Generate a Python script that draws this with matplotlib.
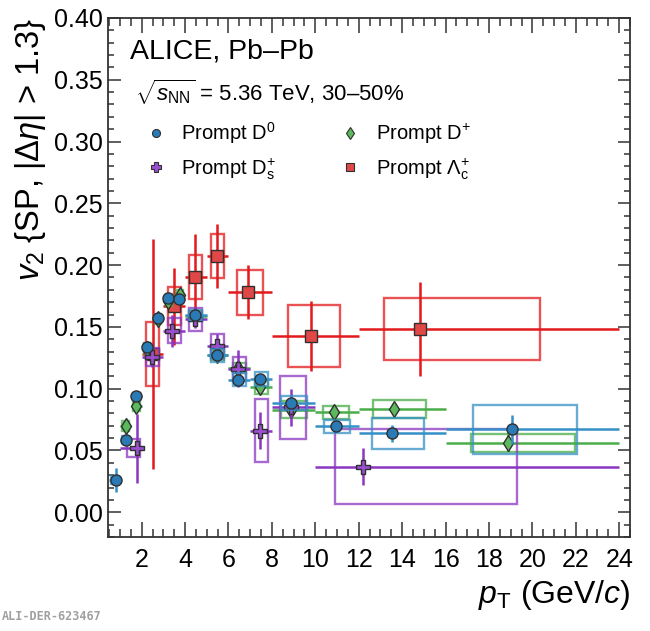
import numpy as np
import matplotlib
matplotlib.use("Agg")
import matplotlib.pyplot as plt
from matplotlib.patches import Rectangle
from matplotlib.lines import Line2D
from matplotlib.ticker import MultipleLocator

plt.rcParams["font.family"] = ["Liberation Sans", "DejaVu Sans"]
plt.rcParams["mathtext.fontset"] = "custom"
plt.rcParams["mathtext.rm"] = "Liberation Sans"
plt.rcParams["mathtext.it"] = "Liberation Sans:italic"
plt.rcParams["mathtext.bf"] = "Liberation Sans:bold"

# prompt D0
d0_pt = np.array([0.81, 1.27, 1.75, 2.25, 2.74, 3.22, 3.73, 4.45, 5.47, 6.45, 7.44, 8.87, 10.94, 13.52, 19.04])
d0_v2 = np.array([0.026, 0.0587, 0.0938, 0.1337, 0.1575, 0.1734, 0.1724, 0.1594, 0.127, 0.1073, 0.108, 0.0883, 0.0697, 0.064, 0.067])
d0_lo = np.array([0.5, 1, 1.5, 2, 2.5, 3, 3.5, 4, 5, 6, 7, 8, 10, 12, 16])
d0_hi = np.array([1, 1.5, 2, 2.5, 3, 3.5, 4, 5, 6, 7, 8, 10, 12, 16, 24])
d0_stat = np.array([0.0095, 0.004, 0.004, 0.004, 0.004, 0.004, 0.004, 0.004, 0.004, 0.004, 0.004, 0.005, 0.004, 0.007, 0.012])
d0_syst = np.array([0.003, 0.003, 0.003, 0.003, 0.003, 0.003, 0.003, 0.004, 0.0055, 0.005, 0.0055, 0.0055, 0.0053, 0.0125, 0.02])
d0_box = np.array([0.75, 1.25, 1.75, 2.25, 2.75, 3.25, 3.75, 4.5, 5.5, 6.5, 7.5, 9, 11, 13.83, 19.65])

# prompt D+
dp_pt = np.array([1.27, 1.74, 2.25, 2.74, 3.22, 3.75, 4.45, 5.47, 6.45, 7.46, 8.87, 10.88, 13.61, 18.86])
dp_v2 = np.array([0.0697, 0.0857, 0.132, 0.156, 0.171, 0.1756, 0.159, 0.127, 0.117, 0.101, 0.083, 0.0808, 0.0835, 0.0562])
dp_lo = np.array([1, 1.5, 2, 2.5, 3, 3.5, 4, 5, 6, 7, 8, 10, 12, 16])
dp_hi = np.array([1.5, 2, 2.5, 3, 3.5, 4, 5, 6, 7, 8, 10, 12, 16, 24])
dp_stat = np.array([0.004, 0.004, 0.004, 0.004, 0.004, 0.004, 0.004, 0.004, 0.004, 0.004, 0.005, 0.004, 0.005, 0.007])
dp_syst = np.array([0.004, 0.004, 0.004, 0.004, 0.004, 0.004, 0.004, 0.004, 0.004, 0.0055, 0.007, 0.0052, 0.007, 0.0073])
dp_box = np.array([1.25, 1.75, 2.25, 2.75, 3.25, 3.75, 4.5, 5.5, 6.5, 7.5, 9, 10.95, 13.88, 19.58])

# prompt Ds+
ds_pt = np.array([1.78, 2.48, 3.41, 4.45, 5.47, 6.45, 7.46, 8.87, 12.18])
ds_v2 = np.array([0.0519, 0.1256, 0.147, 0.156, 0.1343, 0.116, 0.066, 0.085, 0.037])
ds_lo = np.array([1, 2, 3, 4, 5, 6, 7, 8, 10])
ds_hi = np.array([2, 3, 4, 5, 6, 7, 8, 10, 24])
ds_stat = np.array([0.028, 0.008, 0.013, 0.007, 0.01, 0.015, 0.015, 0.015, 0.015])
ds_syst = np.array([0.007, 0.0075, 0.01, 0.0095, 0.0098, 0.0095, 0.0257, 0.0255, 0.030])
ds_box = np.array([1.63, 2.5, 3.5, 4.5, 5.5, 6.5, 7.5, 8.96, 15.1])

# prompt Lambda_c+
lc_pt = np.array([2.51, 3.49, 4.45, 5.47, 6.89, 9.78, 14.82])
lc_v2 = np.array([0.128, 0.1667, 0.1905, 0.2075, 0.178, 0.1426, 0.1486])
lc_lo = np.array([2, 3, 4, 5, 6, 8, 12])
lc_hi = np.array([3, 4, 5, 6, 8, 12, 24])
lc_stat = np.array([0.093, 0.031, 0.035, 0.026, 0.022, 0.028, 0.038])
lc_syst = np.array([0.026, 0.0155, 0.018, 0.018, 0.018, 0.025, 0.025])
lc_box = np.array([2.5, 3.5, 4.47, 5.49, 6.97, 9.93, 16.76])

species = [
    # pt, v2, lo, hi, stat, syst, box, marker, size, fill, line, label
    (lc_pt, lc_v2, lc_lo, lc_hi, lc_stat, lc_syst, lc_box, "s", 8, "#e04848", "#e3191c", r"Prompt $\Lambda_\mathrm{c}^{+}$"),
    (dp_pt, dp_v2, dp_lo, dp_hi, dp_stat, dp_syst, dp_box, "d", 8.5, "#5cb85c", "#4aad4a", r"Prompt D$^{+}$"),
    (ds_pt, ds_v2, ds_lo, ds_hi, ds_stat, ds_syst, ds_box, "P", 10, "#9b4fd0", "#8a36c0", r"Prompt D$_\mathrm{s}^{+}$"),
    (d0_pt, d0_v2, d0_lo, d0_hi, d0_stat, d0_syst, d0_box, "o", 8, "#2a7ab5", "#3590c6", r"Prompt D$^{0}$"),
]

fig = plt.figure(figsize=(6.5, 6.31), dpi=100)
ax = fig.add_axes([0.1662, 0.149, 0.8031, 0.8225])

handles = {}
for z, (pt, v2, lo, hi, stat, syst, box, mk, ms, fc, lc, lab) in enumerate(species):
    zb = 2 + 3 * z
    ax.errorbar(pt, v2, yerr=stat, xerr=[pt - lo, hi - pt], fmt="none",
                ecolor=lc, elinewidth=1.8, capsize=0, zorder=zb)
    for c, w, y, s in zip(box, 0.6 * (hi - lo), v2, syst):
        ax.add_patch(Rectangle((c - w / 2, y - s), w, 2 * s, fill=False,
                               edgecolor=lc, linewidth=1.7, alpha=0.75, zorder=zb + 1))
    ax.plot(pt, v2, linestyle="none", marker=mk, markersize=ms, markerfacecolor=fc,
            markeredgecolor="#303030", markeredgewidth=1.0, zorder=zb + 2)
    handles[lab] = Line2D([], [], linestyle="none", marker=mk, markersize=ms * 0.72,
                          markerfacecolor=fc, markeredgecolor="#303030", markeredgewidth=0.8)

ax.set_xlim(0.45, 24.5)
ax.set_ylim(-0.02, 0.40)
ax.xaxis.set_minor_locator(MultipleLocator(0.5))
ax.yaxis.set_minor_locator(MultipleLocator(0.01))
ax.set_xticks(np.arange(2, 25, 2))
ax.set_yticks(np.arange(0, 0.401, 0.05))
ax.set_yticklabels([f"{v:.2f}" for v in np.arange(0, 0.401, 0.05)])
ax.tick_params(which="both", direction="in", top=True, right=True, labelsize=18, color="#333333", width=1.1)
ax.tick_params(axis="x", which="major", length=11, pad=8)
ax.tick_params(axis="x", which="minor", length=5.5)
ax.tick_params(axis="y", which="major", length=9, pad=4)
ax.tick_params(axis="y", which="minor", length=4.5)
for sp in ax.spines.values():
    sp.set_linewidth(1.3)
    sp.set_color("#333333")

ax.set_xlabel(r"$p_\mathrm{T}$ (GeV/$c$)", fontsize=23, loc="right", labelpad=4)
ax.set_ylabel(r"$v_2$ {SP, $|\Delta\eta|$ > 1.3}", fontsize=23.5, loc="top", labelpad=4)

ax.text(0.042, 0.935, "ALICE, Pb\u2013Pb", transform=ax.transAxes, fontsize=20.5, va="center")
ax.text(0.052, 0.856, r"$\sqrt{s_\mathrm{NN}}$ = 5.36 TeV, 30" + "\u2013" + "50%", transform=ax.transAxes,
        fontsize=16, va="center")

order = [r"Prompt D$^{0}$", r"Prompt D$_\mathrm{s}^{+}$", r"Prompt D$^{+}$", r"Prompt $\Lambda_\mathrm{c}^{+}$"]
ax.legend([handles[k] for k in order], order, ncol=2, loc="upper left",
          bbox_to_anchor=(0.03, 0.838), frameon=False, fontsize=14.5,
          handletextpad=0.55, columnspacing=3.0, labelspacing=0.5, handlelength=1.4)

fig.text(0.003, 0.012, "ALI-DER-623467", fontsize=8.5, color="#a0a0a0",
         family="DejaVu Sans Mono", weight="bold", va="bottom")

fig.savefig("out.png", dpi=100)
